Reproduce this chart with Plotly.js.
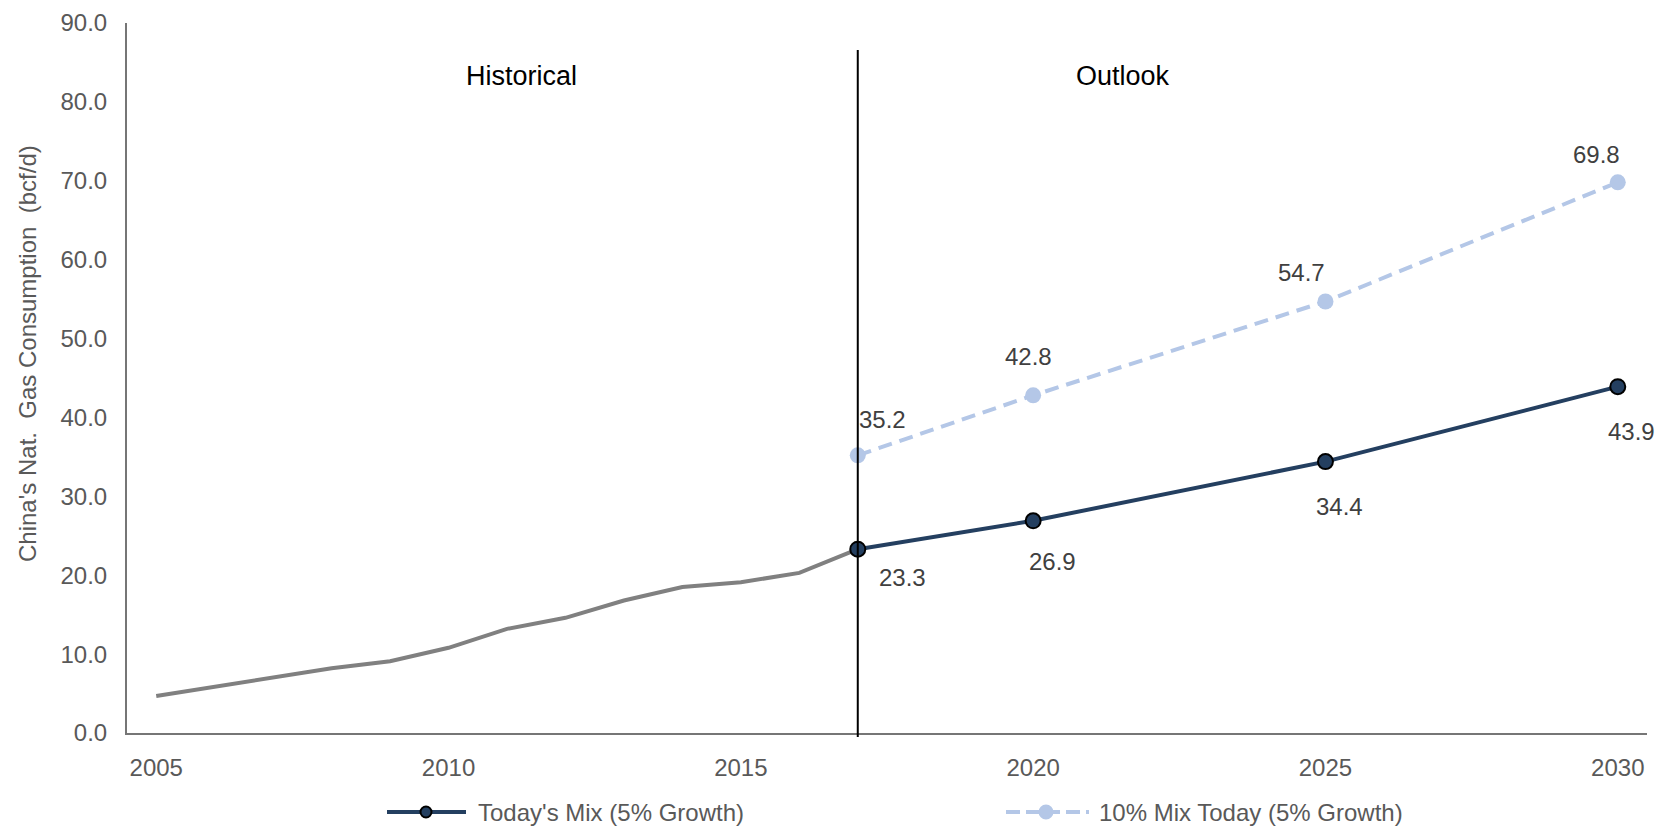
<!DOCTYPE html>
<html>
<head>
<meta charset="utf-8">
<script src="https://cdn.plot.ly/plotly-3.0.1.min.js"></script>
<style>
  html, body { margin: 0; padding: 0; background: #ffffff; }
  #chart { width: 1673px; height: 826px; }
</style>
</head>
<body>
<div id="chart"></div>
<script>
// Historical consumption (bcf/d)
const histYears = [2005, 2006, 2007, 2008, 2009, 2010, 2011, 2012, 2013, 2014, 2015, 2016, 2017];
const histValues = [4.7, 5.9, 7.1, 8.2, 9.1, 10.8, 13.2, 14.6, 16.8, 18.5, 19.1, 20.3, 23.3];

// Outlook scenarios
const outlookYears = [2017, 2020, 2025, 2030];
const todaysMix = [23.3, 26.9, 34.4, 43.9];
const tenPctMix = [35.2, 42.8, 54.7, 69.8];

const seriesNames = ["Today's Mix (5% Growth)", "10% Mix Today (5% Growth)"];
const xTicks = [2005, 2010, 2015, 2020, 2025, 2030];
const yTicks = [0, 10, 20, 30, 40, 50, 60, 70, 80, 90];
const splitYear = 2017;
const periodLabels = ['Historical', 'Outlook'];
const yTitle = "China's Nat.  Gas Consumption  (bcf/d)";

// label offsets in pixels (placement only)
const darkLabelShift = [[45, -28], [19, -41], [14, -45], [14, -45]];
const lightLabelShift = [[25, 36], [-5, 39], [-24, 29], [-21, 28]];

const fontFamily = '"Liberation Sans", Arial, sans-serif';
const darkColor = '#243F60';
const lightColor = '#B4C7E7';

// plot area geometry in pixels
const W = 1673, H = 826;
const M = { l: 127, r: 26, t: 23, b: 93 };
const plotW = W - M.l - M.r, plotH = H - M.t - M.b;
const px = v => (v - M.l) / plotW;           // page x -> paper x
const py = v => (H - M.b - v) / plotH;       // page y -> paper y

const traces = [
  {
    x: histYears, y: histValues, type: 'scatter', mode: 'lines',
    line: { color: '#808080', width: 4 }, showlegend: false, hoverinfo: 'skip'
  },
  {
    x: outlookYears, y: tenPctMix, type: 'scatter', mode: 'lines+markers',
    name: seriesNames[1], showlegend: false,
    line: { color: lightColor, width: 4, dash: '14px,8px' },
    marker: { color: lightColor, size: 16 }
  },
  {
    x: outlookYears, y: todaysMix, type: 'scatter', mode: 'lines+markers',
    name: seriesNames[0], showlegend: false,
    line: { color: darkColor, width: 4 },
    marker: { color: darkColor, size: 15, line: { color: '#000000', width: 2 } }
  }
];

const annotations = [];
outlookYears.forEach((yr, i) => {
  annotations.push({
    x: yr, y: todaysMix[i], xref: 'x', yref: 'y', text: todaysMix[i].toFixed(1),
    showarrow: false, xshift: darkLabelShift[i][0], yshift: darkLabelShift[i][1],
    font: { family: fontFamily, size: 24, color: '#404040' }
  });
  annotations.push({
    x: yr, y: tenPctMix[i], xref: 'x', yref: 'y', text: tenPctMix[i].toFixed(1),
    showarrow: false, xshift: lightLabelShift[i][0], yshift: lightLabelShift[i][1],
    font: { family: fontFamily, size: 24, color: '#404040' }
  });
});
annotations.push({
  x: 2011.24, y: 83.3, xref: 'x', yref: 'y', text: periodLabels[0], showarrow: false,
  font: { family: fontFamily, size: 27, color: '#000000' }
});
annotations.push({
  x: 2021.54, y: 83.3, xref: 'x', yref: 'y', text: periodLabels[1], showarrow: false,
  font: { family: fontFamily, size: 27, color: '#000000' }
});
// vertical axis title
annotations.push({
  x: px(27), y: py(354), xref: 'paper', yref: 'paper', text: yTitle, textangle: -90,
  showarrow: false, xanchor: 'center', yanchor: 'middle',
  font: { family: fontFamily, size: 24, color: '#595959' }
});

// legend drawn below the plot
const legendItems = [
  { name: seriesNames[0], x0: 387, x1: 466, xm: 426, xt: 476, color: darkColor, dash: 'solid', edge: '#000000', size: 11 },
  { name: seriesNames[1], x0: 1006, x1: 1089, xm: 1046, xt: 1097, color: lightColor, dash: '14px,6px', edge: lightColor, size: 13 }
];
const legendY = 812;
const shapes = [{
  type: 'line', xref: 'x', yref: 'paper', x0: splitYear, x1: splitYear,
  y0: py(737), y1: py(50), line: { color: '#000000', width: 2 }
}];
legendItems.forEach(it => {
  shapes.push({
    type: 'line', xref: 'paper', yref: 'paper', x0: px(it.x0), x1: px(it.x1),
    y0: py(legendY), y1: py(legendY), line: { color: it.color, width: 4, dash: it.dash }
  });
  shapes.push({
    type: 'circle', xref: 'paper', yref: 'paper', xsizemode: 'pixel', ysizemode: 'pixel',
    xanchor: px(it.xm), yanchor: py(legendY),
    x0: -it.size / 2, x1: it.size / 2, y0: -it.size / 2, y1: it.size / 2,
    fillcolor: it.color, line: { color: it.edge, width: 2 }
  });
  annotations.push({
    x: px(it.xt), y: py(legendY), xref: 'paper', yref: 'paper', text: it.name,
    showarrow: false, xanchor: 'left', yanchor: 'middle',
    font: { family: fontFamily, size: 24, color: '#595959' }
  });
});

const layout = {
  width: W, height: H,
  margin: M,
  paper_bgcolor: '#ffffff', plot_bgcolor: '#ffffff',
  font: { family: fontFamily, color: '#595959', size: 24 },
  showlegend: false,
  xaxis: {
    range: [2004.5, 2030.5], tickvals: xTicks, ticktext: xTicks.map(String),
    showgrid: false, zeroline: false, showline: true, linecolor: '#767676', linewidth: 2,
    ticks: '', ticklabelstandoff: 12, automargin: false,
    tickfont: { family: fontFamily, size: 24, color: '#595959' }
  },
  yaxis: {
    range: [0, 90], tickvals: yTicks, ticktext: yTicks.map(v => v.toFixed(1)),
    showgrid: false, zeroline: false, showline: true, linecolor: '#767676', linewidth: 2,
    ticks: '', ticklabelstandoff: 13, automargin: false,
    tickfont: { family: fontFamily, size: 24, color: '#595959' }
  },
  shapes: shapes,
  annotations: annotations
};

Plotly.newPlot('chart', traces, layout, { displayModeBar: false, staticPlot: true });
</script>
</body>
</html>
